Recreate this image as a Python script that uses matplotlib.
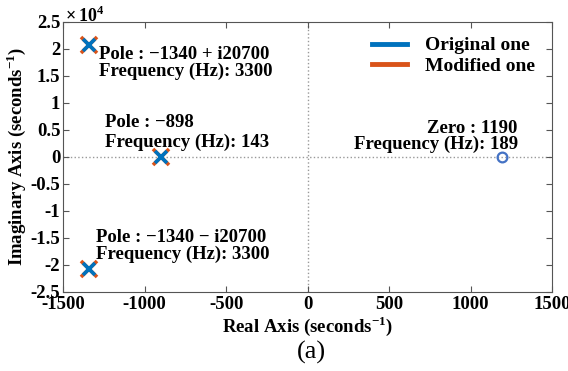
import matplotlib
matplotlib.use('Agg')
import matplotlib.pyplot as plt
from matplotlib.lines import Line2D

plt.rcParams['font.family'] = ['Liberation Serif', 'DejaVu Serif']
plt.rcParams['font.weight'] = 'bold'
plt.rcParams['mathtext.fontset'] = 'custom'
plt.rcParams['mathtext.rm'] = 'Liberation Serif:bold'
plt.rcParams['mathtext.bf'] = 'Liberation Serif:bold'

# poles and zeros (seconds^-1)
pole_re = [-1340, -1340, -898]
pole_im = [20700, -20700, 0]
zero_re = [1190]
zero_im = [0]

pole_labels = ["Pole : \u22121340 + i20700\nFrequency (Hz): 3300",
               "Pole : \u22121340 \u2212 i20700\nFrequency (Hz): 3300",
               "Pole : \u2212898\nFrequency (Hz): 143"]
zero_labels = ["Zero : 1190\nFrequency (Hz): 189"]

blue = '#0072BD'
orange = '#D95319'

fig = plt.figure(figsize=(5.68, 3.71), dpi=100)
ax = fig.add_axes([0.111, 0.213, 0.861, 0.728])

ax.axhline(0, color='#999999', ls=':', lw=1, zorder=0)
ax.axvline(0, color='#999999', ls=':', lw=1, zorder=0)

ax.plot(pole_re, pole_im, ls='none', marker='x', ms=12, mew=2.6, color=orange)
ax.plot(pole_re, pole_im, ls='none', marker='x', ms=8.5, mew=2.6, color=blue)
ax.plot(zero_re, zero_im, ls='none', marker='o', ms=7, mew=1.6, mfc='none', color='#4472C4')

fs = 13.5
ax.text(-1280, 17400, pole_labels[0], fontsize=fs, fontweight='bold',
        ha='left', va='center', linespacing=0.95)
ax.text(-1295, -16500, pole_labels[1], fontsize=fs, fontweight='bold',
        ha='left', va='center', linespacing=0.95)
ax.text(-1245, 4500, pole_labels[2], fontsize=fs, fontweight='bold',
        ha='left', va='center', linespacing=1.15)
ax.text(1290, 3800, zero_labels[0], fontsize=fs, fontweight='bold',
        ha='right', va='center', linespacing=0.95, multialignment='right')

ax.set_xlim(-1500, 1500)
ax.set_ylim(-25000, 25000)
ax.set_xticks([-1500, -1000, -500, 0, 500, 1000, 1500])
ax.set_xticklabels(['-1500', '-1000', '-500', '0', '500', '1000', '1500'])
yt = [-25000, -20000, -15000, -10000, -5000, 0, 5000, 10000, 15000, 20000, 25000]
ax.set_yticks(yt)
ax.set_yticklabels(['-2.5', '-2', '-1.5', '-1', '-0.5', '0', '0.5', '1', '1.5', '2', '2.5'])
ax.tick_params(direction='in', top=True, right=True, length=4, width=0.8,
               labelsize=13.5, color='#555555', pad=2)
ax.tick_params(axis='x', pad=3)
for s in ax.spines.values():
    s.set_color('#555555')
    s.set_linewidth(0.8)

ax.text(0.005, 0.985, r'$\times\,10^{4}$', transform=ax.transAxes, fontsize=13,
        ha='left', va='bottom')

ax.set_xlabel(r'Real Axis (seconds$^{\mathbf{-1}}$)', fontsize=13.5, fontweight='bold', labelpad=1)
ax.set_ylabel(r'Imaginary Axis (seconds$^{\mathbf{-1}}$)', fontsize=13.5, fontweight='bold', labelpad=2)

handles = [Line2D([], [], color=blue, lw=3.5), Line2D([], [], color=orange, lw=3.5)]
leg = ax.legend(handles, ['Original one', 'Modified one'], loc='upper right',
                bbox_to_anchor=(0.965, 0.945), frameon=False, handlelength=1.8,
                handletextpad=0.9, borderpad=0, borderaxespad=0, labelspacing=0.15,
                prop={'weight': 'bold', 'size': 14})

fig.text(0.548, 0.051, '(a)', fontsize=19, fontweight='normal', ha='center', va='center')

fig.savefig('out.png', dpi=100)
